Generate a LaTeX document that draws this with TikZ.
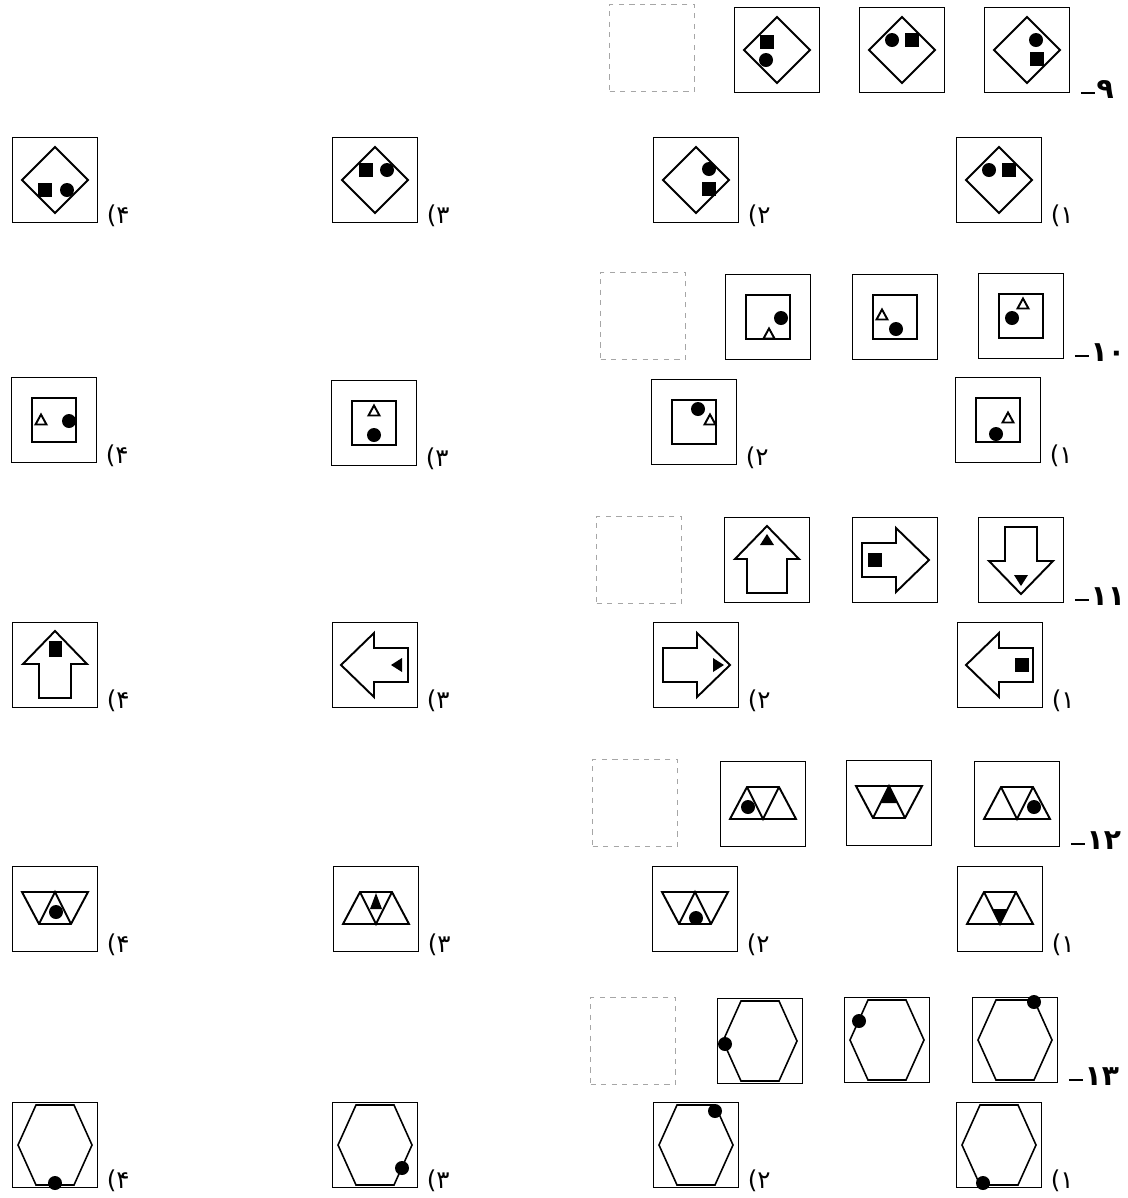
\documentclass[tikz,border=0pt]{standalone}
\usepackage{fontspec}
\newfontfamily\persianfont{DejaVu Sans}
\usepackage{tikz}
\usetikzlibrary{positioning}

% shapes inside one box (pixel units, y downwards, origin = box centre)
\newcommand{\rhomb}{\draw[figline] (0,-33) -- (33,0) -- (0,33) -- (-33,0) -- cycle;}
\newcommand{\innersq}{\draw[figline] (-22,-22) rectangle (22,22);}
\newcommand{\hexa}{\draw[hexline] (-19,-40) -- (19,-40) -- (37,0) -- (19,40) -- (-19,40) -- (-37,0) -- cycle;}
\newcommand{\trapup}{\draw[figline] (-33,15) -- (33,15) -- (16,-17) -- (-16,-17) -- cycle (-16,-17) -- (0,15) -- (16,-17);}
\newcommand{\trapdown}{\draw[figline] (-33,-17) -- (33,-17) -- (16,15) -- (-16,15) -- cycle (-16,15) -- (0,-17) -- (16,15);}
\newcommand{\arrowup}[1]{\draw[figline] (0,-34) -- (32,-1) -- (#1,-1) -- (#1,33) -- (-#1,33) -- (-#1,-1) -- (-32,-1) -- cycle;}
\newcommand{\bdot}[2]{\fill (#1,#2) circle (7);}
\newcommand{\bsq}[2]{\fill (#1,#2) +(-7,-7) rectangle +(7,7);}
\newcommand{\btri}[2]{\fill (#1,#2) +(0,-6) -- +(7,5) -- +(-7,5) -- cycle;}
\newcommand{\wtri}[2]{\draw[figline, fill=white] (#1,#2) +(0,-5.5) -- +(5.5,4.5) -- +(-5.5,4.5) -- cycle;}
% one figure: name, centre, contents
\newcommand{\figcell}[3]{\node[figbox] (#1) at (#2) {};
  \begin{scope}[shift={(#2)}] #3 \end{scope}}
% dash in front of a question number
\newcommand{\qdash}{\rule[2.5pt]{8pt}{1.1pt}\hspace{1pt}}

\begin{document}
\begin{tikzpicture}[x=0.02cm, y=-0.02cm]
  % ------- styles -------
  \tikzstyle{figbox}=[draw, line width=1.1pt, minimum size=1.7cm, inner sep=0pt]
  \tikzstyle{blankbox}=[draw=gray!70, dashed, line width=0.8pt, minimum width=1.7cm, minimum height=1.74cm, inner sep=0pt]
  \tikzstyle{figline}=[line width=1.1pt, line join=miter]
  \tikzstyle{hexline}=[line width=0.9pt, line join=miter]
  \tikzstyle{qnum}=[font=\persianfont\bfseries\fontsize{16}{18}\selectfont, inner sep=0pt]
  \tikzstyle{onum}=[font=\persianfont\fontsize{14}{16}\selectfont, inner sep=0pt]

  \useasboundingbox (0,0) rectangle (1127,1198);

  % ------- 9 -------
  \node[blankbox] (d9) at (652,48) {};
  \figcell{q9a}{777,50}{\rhomb \bsq{-10}{-8} \bdot{-11}{10}}
  \figcell{q9b}{902,50}{\rhomb \bdot{-10}{-10} \bsq{10}{-10}}
  \figcell{q9c}{1027,50}{\rhomb \bdot{9}{-10} \bsq{10}{9}}
  \figcell{a94}{55,180}{\rhomb \bsq{-10}{10} \bdot{12}{10}}
  \figcell{a93}{375,180}{\rhomb \bsq{-9}{-10} \bdot{12}{-10}}
  \figcell{a92}{696,180}{\rhomb \bdot{13}{-11} \bsq{13}{9}}
  \figcell{a91}{999,180}{\rhomb \bdot{-10}{-10} \bsq{10}{-10}}

  % ------- 10 -------
  \node[blankbox] (d10) at (643,316) {};
  \figcell{q10a}{768,317}{\innersq \bdot{13}{1} \wtri{1}{17}}
  \figcell{q10b}{895,317}{\innersq \wtri{-13}{-2} \bdot{1}{12}}
  \figcell{q10c}{1021,316}{\innersq \wtri{2}{-12} \bdot{-9}{2}}
  \figcell{a104}{54,420}{\innersq \wtri{-13}{0} \bdot{15}{1}}
  \figcell{a103}{374,423}{\innersq \wtri{0}{-12} \bdot{0}{12}}
  \figcell{a102}{694,422}{\innersq \bdot{4}{-13} \wtri{16}{-2}}
  \figcell{a101}{998,420}{\innersq \wtri{10}{-2} \bdot{-2}{14}}

  % ------- 11 -------
  \node[blankbox] (d11) at (639,560) {};
  \figcell{q11a}{767,560}{\arrowup{20} \btri{0}{-20}}
  \figcell{q11b}{895,560}{\begin{scope}[rotate=-90] \arrowup{17} \bsq{0}{20} \end{scope}}
  \figcell{q11c}{1021,560}{\begin{scope}[rotate=180] \arrowup{16} \btri{0}{-20} \end{scope}}
  \figcell{a114}{55,665}{\arrowup{16} \fill (-6,-24) rectangle (7,-8);}
  \figcell{a113}{375,665}{\begin{scope}[rotate=90] \arrowup{17} \btri{0}{22} \end{scope}}
  \figcell{a112}{696,665}{\begin{scope}[rotate=-90] \arrowup{17} \btri{0}{-22} \end{scope}}
  \figcell{a111}{1000,665}{\begin{scope}[rotate=90] \arrowup{17} \bsq{0}{22} \end{scope}}

  % ------- 12 -------
  \node[blankbox] (d12) at (635,803) {};
  \figcell{q12a}{763,804}{\trapup \bdot{-15}{3}}
  \figcell{q12b}{889,803}{\trapdown \fill (0,-17) -- (8.5,0) -- (-8.5,0) -- cycle;}
  \figcell{q12c}{1017,804}{\trapup \bdot{17}{3}}
  \figcell{a124}{55,909}{\trapdown \bdot{1}{3}}
  \figcell{a123}{376,909}{\trapup \fill (0,-16) -- (6,0) -- (-6,0) -- cycle;}
  \figcell{a122}{695,909}{\trapdown \bdot{1}{9}}
  \figcell{a121}{1000,909}{\trapup \fill (-7,0) -- (7,0) -- (0,15) -- cycle;}

  % ------- 13 -------
  \node[blankbox] (d13) at (633,1041) {};
  \figcell{q13a}{760,1041}{\hexa \bdot{-35}{3}}
  \figcell{q13b}{887,1040}{\hexa \bdot{-28}{-19}}
  \figcell{q13c}{1015,1040}{\hexa \bdot{19}{-38}}
  \figcell{a134}{55,1145}{\hexa \bdot{0}{38}}
  \figcell{a133}{375,1145}{\hexa \bdot{27}{23}}
  \figcell{a132}{696,1145}{\hexa \bdot{19}{-34}}
  \figcell{a131}{999,1145}{\hexa \bdot{-16}{38}}

  % ------- numbers -------
  \node[qnum, right=2mm of q9c.south east, anchor=base west, yshift=-1mm] (n9) {\qdash۹};
  \node[qnum, right=2mm of q10c.south east, anchor=base west, yshift=-0.4mm] (n10) {\qdash۱۰};
  \node[qnum, right=2mm of q11c.south east, anchor=base west, yshift=-0.4mm] (n11) {\qdash۱۱};
  \node[qnum, right=2mm of q12c.south east, anchor=base west, yshift=-0.4mm] (n12) {\qdash۱۲};
  \node[qnum, right=2mm of q13c.south east, anchor=base west, yshift=-0.4mm] (n13) {\qdash۱۳};
  \foreach \r in {9,10,11,12,13}{
    \node[onum, right=1.6mm of a\r4.south east, anchor=base west] (l\r4) {(۴};
    \node[onum, right=1.6mm of a\r3.south east, anchor=base west] (l\r3) {(۳};
    \node[onum, right=1.6mm of a\r2.south east, anchor=base west] (l\r2) {(۲};
    \node[onum, right=1.6mm of a\r1.south east, anchor=base west] (l\r1) {(۱};
  }
\end{tikzpicture}
\end{document}
